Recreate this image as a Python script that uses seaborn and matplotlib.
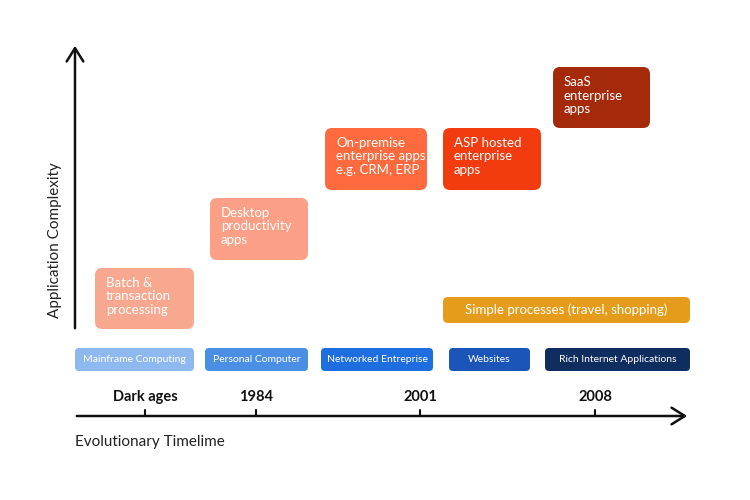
import matplotlib
matplotlib.use("Agg")
import matplotlib.pyplot as plt
from matplotlib.patches import FancyBboxPatch
import seaborn as sns

sns.set_theme(style="white")
plt.rcParams["font.family"] = "Lato"

app_labels = ["Batch &\ntransaction\nprocessing", "Desktop\nproductivity\napps",
              "On-premise\nenterprise apps\ne.g. CRM, ERP", "ASP hosted\nenterprise\napps",
              "SaaS\nenterprise\napps"]
app_colors = ["#F9A890", "#FBA086", "#FF6A3F", "#F23B0E", "#A52A0B"]
app_boxes = [(95, 268, 99, 61), (210, 198, 98, 62), (325, 128, 102, 62),
             (443, 128, 98, 62), (553, 67, 97, 61)]

simple_label = "Simple processes (travel, shopping)"
simple_color = "#E59C1A"
simple_box = (443, 297, 247, 26)

era_labels = ["Mainframe Computing", "Personal Computer", "Networked Entreprise",
              "Websites", "Rich Internet Applications"]
era_colors = ["#8DB8F0", "#4A8FE3", "#1F6EDF", "#1A55B7", "#0F2D5E"]
era_boxes = [(75, 348, 119, 23), (205, 348, 103, 23), (321, 348, 112, 23),
             (449, 348, 81, 23), (545, 348, 145, 23)]

tick_labels = ["Dark ages", "1984", "2001", "2008"]
tick_pos = [145, 256, 420, 595]

fig = plt.figure(figsize=(7.5, 5), dpi=100)
ax = fig.add_axes([0, 0, 1, 1])
ax.set_xlim(0, 750)
ax.set_ylim(500, 0)
ax.axis("off")

def box(b, c, r=7):
    x, y, w, h = b
    ax.add_patch(FancyBboxPatch((x + r, y + r), w - 2 * r, h - 2 * r,
                                boxstyle=f"round,pad={r}", fc=c, ec="none"))

for lab, c, b in zip(app_labels, app_colors, app_boxes):
    box(b, c)
    ax.text(b[0] + 11, b[1] + 9, lab, color="white", fontsize=9.5, va="top",
            ha="left", linespacing=1.15)

box(simple_box, simple_color, 5)
ax.text(simple_box[0] + simple_box[2] / 2, simple_box[1] + simple_box[3] / 2,
        simple_label, color="white", fontsize=9.5, ha="center", va="center")

for lab, c, b in zip(era_labels, era_colors, era_boxes):
    box(b, c, 4)
    ax.text(b[0] + b[2] / 2, b[1] + b[3] / 2, lab, color="white", fontsize=7.5,
            ha="center", va="center")

for lab, p in zip(tick_labels, tick_pos):
    ax.text(p, 397, lab, fontsize=10.5, fontweight="bold", ha="center", va="center",
            color="#111111")
    ax.plot([p, p], [410, 416], color="#111111", lw=1.5)

ax.annotate("", xy=(690, 416), xytext=(74, 416),
            arrowprops=dict(arrowstyle="->,head_length=0.8,head_width=0.5", lw=1.8, color="#111111"))
ax.annotate("", xy=(75, 43), xytext=(75, 331),
            arrowprops=dict(arrowstyle="->,head_length=0.8,head_width=0.5", lw=1.8, color="#111111"))

ax.text(55, 240, "Application Complexity", rotation=90, fontsize=11, ha="center",
        va="center", color="#222222")
ax.text(75, 442, "Evolutionary Timelime", fontsize=11, ha="left", va="center",
        color="#222222")

fig.savefig("out.png", dpi=100)
